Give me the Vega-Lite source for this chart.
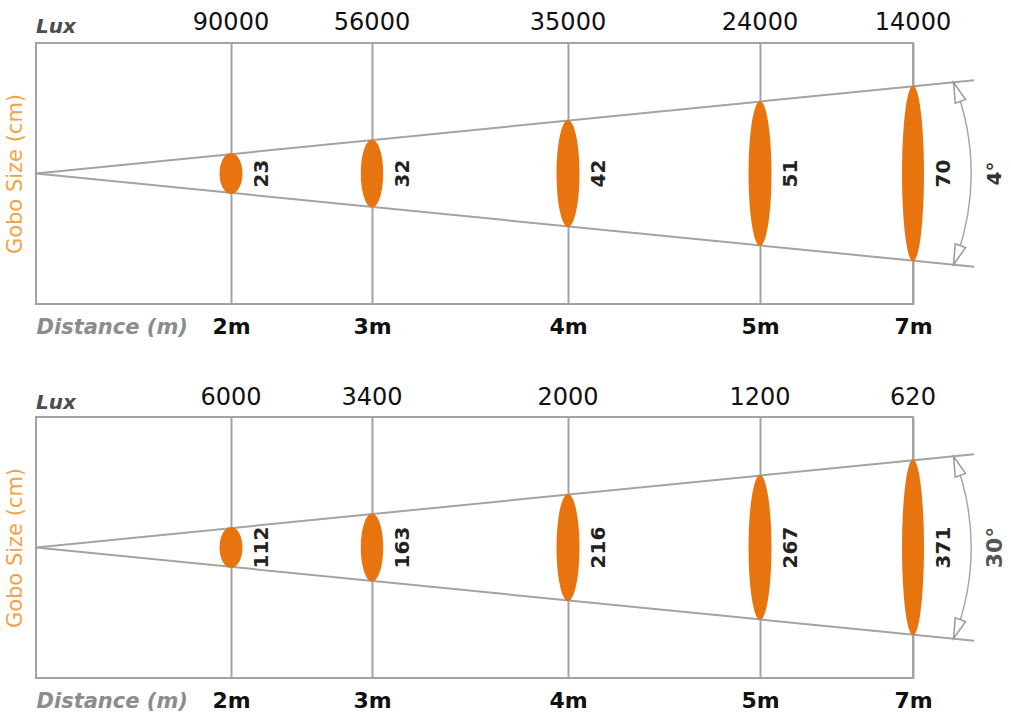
{
  "$schema": "https://vega.github.io/schema/vega-lite/v6.json",
  "background": "white",
  "padding": {"left": 3, "top": 10, "right": 0, "bottom": 0},
  "bounds": "flush",
  "spacing": 113,
  "datasets": {
    "pts": [
      {"panel": "A", "d": 2, "lux": 90000, "gobo": 23},
      {"panel": "A", "d": 3, "lux": 56000, "gobo": 32},
      {"panel": "A", "d": 4, "lux": 35000, "gobo": 42},
      {"panel": "A", "d": 5, "lux": 24000, "gobo": 51},
      {"panel": "A", "d": 7, "lux": 14000, "gobo": 70},
      {"panel": "B", "d": 2, "lux": 6000, "gobo": 112},
      {"panel": "B", "d": 3, "lux": 3400, "gobo": 163},
      {"panel": "B", "d": 4, "lux": 2000, "gobo": 216},
      {"panel": "B", "d": 5, "lux": 1200, "gobo": 267},
      {"panel": "B", "d": 7, "lux": 620, "gobo": 371}
    ],
    "beam": [
      {"side": "upper", "d": 0, "s": 0},
      {"side": "upper", "d": 7.8, "s": 1},
      {"side": "lower", "d": 0, "s": 0},
      {"side": "lower", "d": 7.8, "s": -1}
    ],
    "beams": [
      {"panel": "A", "angle": "4°"},
      {"panel": "B", "angle": "30°"}
    ],
    "one": [{"t": "Lux"}]
  },
  "vconcat": [
    {
      "width": 877,
      "height": 261,
      "layer": [
        {
          "data": {"name": "beam"},
          "mark": {"type": "line", "color": "#a3a3a3", "strokeWidth": 2},
          "encoding": {
            "x": {"field": "d", "type": "quantitative",
              "scale": {"domain": [0, 2, 3, 4, 5, 7], "range": [0, 195, 336, 532, 724, 877], "nice": false, "zero": false},
              "axis": {"values": [2, 3, 4, 5, 7], "labelExpr": "datum.value + 'm'", "labelFont": "DejaVu Sans", "labelFontWeight": "bold", "labelFontSize": 22, "labelColor": "#111111", "labelBaseline": "alphabetic", "labelPadding": 29, "labelOverlap": false, "labelFlush": false, "ticks": false, "tickSize": 0, "domain": false, "grid": true, "gridColor": "#a3a3a3", "gridWidth": 2, "title": "Distance (m)", "titleX": 0, "titleY": 29, "titleAlign": "left", "titleAnchor": "start", "titleBaseline": "alphabetic", "titleFont": "DejaVu Sans", "titleFontStyle": "italic", "titleFontWeight": "bold", "titleFontSize": 21, "titleColor": "#8c8c8c"}},
            "y": {"field": "s", "type": "quantitative",
              "scale": {"domain": [-1.4, 1.4], "nice": false, "zero": false},
              "axis": {"title": "Gobo Size (cm)", "labels": false, "ticks": false, "domain": false, "grid": false, "titlePadding": 11, "titleFont": "DejaVu Sans", "titleFontWeight": "normal", "titleFontSize": 21, "titleColor": "#F2A245"}},
            "detail": {"field": "side"}
          }
        },
        {
          "data": {"name": "pts"},
          "transform": [{"filter": "datum.panel == 'A'"}],
          "mark": {"type": "point", "filled": true, "size": 40000, "color": "#E8740F", "opacity": 1, "strokeWidth": 0},
          "encoding": {
            "x": {"field": "d", "type": "quantitative"},
            "y": {"datum": 0},
            "shape": {"field": "d", "type": "nominal", "legend": null,
              "scale": {"domain": [2, 3, 4, 5, 7], "range": [
                "M0,-0.205A0.115,0.205 0 1,1 0,0.205A0.115,0.205 0 1,1 0,-0.205Z",
                "M0,-0.34A0.112,0.34 0 1,1 0,0.34A0.112,0.34 0 1,1 0,-0.34Z",
                "M0,-0.535A0.115,0.535 0 1,1 0,0.535A0.115,0.535 0 1,1 0,-0.535Z",
                "M0,-0.725A0.115,0.725 0 1,1 0,0.725A0.115,0.725 0 1,1 0,-0.725Z",
                "M0,-0.88A0.11,0.88 0 1,1 0,0.88A0.11,0.88 0 1,1 0,-0.88Z"]}}
          }
        },
        {
          "data": {"name": "pts"},
          "transform": [{"filter": "datum.panel == 'A'"}],
          "mark": {"type": "text", "angle": 270, "dy": 31, "align": "center", "baseline": "middle", "font": "DejaVu Sans", "fontWeight": "bold", "fontSize": 20, "color": "#222222"},
          "encoding": {
            "x": {"field": "d", "type": "quantitative"},
            "y": {"datum": 0},
            "text": {"field": "gobo", "type": "nominal"}
          }
        },
        {
          "data": {"name": "pts"},
          "transform": [{"filter": "datum.panel == 'A'"}],
          "mark": {"type": "text", "dy": -13, "align": "center", "baseline": "alphabetic", "font": "DejaVu Sans", "fontSize": 24, "color": "#111111"},
          "encoding": {
            "x": {"field": "d", "type": "quantitative"},
            "y": {"datum": 1.4},
            "text": {"field": "lux", "type": "nominal"}
          }
        },
        {
          "data": {"name": "one"},
          "mark": {"type": "text", "dy": -10, "align": "left", "baseline": "alphabetic", "font": "DejaVu Sans", "fontStyle": "italic", "fontWeight": "bold", "fontSize": 20, "color": "#4d4d4d"},
          "encoding": {
            "x": {"datum": 0},
            "y": {"datum": 1.4},
            "text": {"field": "t", "type": "nominal"}
          }
        },
        {
          "data": {"name": "one"},
          "mark": {"type": "arc", "theta": 1.192, "theta2": 1.95, "radius": 246.5, "radius2": 245, "color": "#a8a8a8"},
          "encoding": {
            "x": {"datum": 4.82},
            "y": {"datum": 0}
          }
        },
        {
          "data": {"name": "one"},
          "mark": {"type": "point", "shape": "M0,-1L0.55,1L-0.55,1Z", "size": 400, "angle": -20, "filled": true, "fill": "white", "stroke": "#999999", "strokeWidth": 1.5, "opacity": 1},
          "encoding": {
            "x": {"datum": 7.575},
            "y": {"datum": 0.876}
          }
        },
        {
          "data": {"name": "one"},
          "mark": {"type": "point", "shape": "M0,1L0.55,-1L-0.55,-1Z", "size": 400, "angle": 20, "filled": true, "fill": "white", "stroke": "#999999", "strokeWidth": 1.5, "opacity": 1},
          "encoding": {
            "x": {"datum": 7.575},
            "y": {"datum": -0.876}
          }
        },
        {
          "data": {"name": "beams"},
          "transform": [{"filter": "datum.panel == 'A'"}],
          "mark": {"type": "text", "angle": 270, "align": "center", "baseline": "middle", "font": "DejaVu Sans", "fontWeight": "bold", "fontSize": 20, "color": "#333333"},
          "encoding": {
            "x": {"datum": 8.07},
            "y": {"datum": 0},
            "text": {"field": "angle", "type": "nominal"}
          }
        }
      ]
    },
    {
      "width": 877,
      "height": 261,
      "layer": [
        {
          "data": {"name": "beam"},
          "mark": {"type": "line", "color": "#a3a3a3", "strokeWidth": 2},
          "encoding": {
            "x": {"field": "d", "type": "quantitative",
              "scale": {"domain": [0, 2, 3, 4, 5, 7], "range": [0, 195, 336, 532, 724, 877], "nice": false, "zero": false},
              "axis": {"values": [2, 3, 4, 5, 7], "labelExpr": "datum.value + 'm'", "labelFont": "DejaVu Sans", "labelFontWeight": "bold", "labelFontSize": 22, "labelColor": "#111111", "labelBaseline": "alphabetic", "labelPadding": 29, "labelOverlap": false, "labelFlush": false, "ticks": false, "tickSize": 0, "domain": false, "grid": true, "gridColor": "#a3a3a3", "gridWidth": 2, "title": "Distance (m)", "titleX": 0, "titleY": 29, "titleAlign": "left", "titleAnchor": "start", "titleBaseline": "alphabetic", "titleFont": "DejaVu Sans", "titleFontStyle": "italic", "titleFontWeight": "bold", "titleFontSize": 21, "titleColor": "#8c8c8c"}},
            "y": {"field": "s", "type": "quantitative",
              "scale": {"domain": [-1.4, 1.4], "nice": false, "zero": false},
              "axis": {"title": "Gobo Size (cm)", "labels": false, "ticks": false, "domain": false, "grid": false, "titlePadding": 11, "titleFont": "DejaVu Sans", "titleFontWeight": "normal", "titleFontSize": 21, "titleColor": "#F2A245"}},
            "detail": {"field": "side"}
          }
        },
        {
          "data": {"name": "pts"},
          "transform": [{"filter": "datum.panel == 'B'"}],
          "mark": {"type": "point", "filled": true, "size": 40000, "color": "#E8740F", "opacity": 1, "strokeWidth": 0},
          "encoding": {
            "x": {"field": "d", "type": "quantitative"},
            "y": {"datum": 0},
            "shape": {"field": "d", "type": "nominal", "legend": null,
              "scale": {"domain": [2, 3, 4, 5, 7], "range": [
                "M0,-0.205A0.115,0.205 0 1,1 0,0.205A0.115,0.205 0 1,1 0,-0.205Z",
                "M0,-0.34A0.112,0.34 0 1,1 0,0.34A0.112,0.34 0 1,1 0,-0.34Z",
                "M0,-0.535A0.115,0.535 0 1,1 0,0.535A0.115,0.535 0 1,1 0,-0.535Z",
                "M0,-0.725A0.115,0.725 0 1,1 0,0.725A0.115,0.725 0 1,1 0,-0.725Z",
                "M0,-0.88A0.11,0.88 0 1,1 0,0.88A0.11,0.88 0 1,1 0,-0.88Z"]}}
          }
        },
        {
          "data": {"name": "pts"},
          "transform": [{"filter": "datum.panel == 'B'"}],
          "mark": {"type": "text", "angle": 270, "dy": 31, "align": "center", "baseline": "middle", "font": "DejaVu Sans", "fontWeight": "bold", "fontSize": 20, "color": "#222222"},
          "encoding": {
            "x": {"field": "d", "type": "quantitative"},
            "y": {"datum": 0},
            "text": {"field": "gobo", "type": "nominal"}
          }
        },
        {
          "data": {"name": "pts"},
          "transform": [{"filter": "datum.panel == 'B'"}],
          "mark": {"type": "text", "dy": -12, "align": "center", "baseline": "alphabetic", "font": "DejaVu Sans", "fontSize": 24, "color": "#111111"},
          "encoding": {
            "x": {"field": "d", "type": "quantitative"},
            "y": {"datum": 1.4},
            "text": {"field": "lux", "type": "nominal"}
          }
        },
        {
          "data": {"name": "one"},
          "mark": {"type": "text", "dy": -8, "align": "left", "baseline": "alphabetic", "font": "DejaVu Sans", "fontStyle": "italic", "fontWeight": "bold", "fontSize": 20, "color": "#4d4d4d"},
          "encoding": {
            "x": {"datum": 0},
            "y": {"datum": 1.4},
            "text": {"field": "t", "type": "nominal"}
          }
        },
        {
          "data": {"name": "one"},
          "mark": {"type": "arc", "theta": 1.192, "theta2": 1.95, "radius": 246.5, "radius2": 245, "color": "#a8a8a8"},
          "encoding": {
            "x": {"datum": 4.82},
            "y": {"datum": 0}
          }
        },
        {
          "data": {"name": "one"},
          "mark": {"type": "point", "shape": "M0,-1L0.55,1L-0.55,1Z", "size": 400, "angle": -20, "filled": true, "fill": "white", "stroke": "#999999", "strokeWidth": 1.5, "opacity": 1},
          "encoding": {
            "x": {"datum": 7.575},
            "y": {"datum": 0.876}
          }
        },
        {
          "data": {"name": "one"},
          "mark": {"type": "point", "shape": "M0,1L0.55,-1L-0.55,-1Z", "size": 400, "angle": 20, "filled": true, "fill": "white", "stroke": "#999999", "strokeWidth": 1.5, "opacity": 1},
          "encoding": {
            "x": {"datum": 7.575},
            "y": {"datum": -0.876}
          }
        },
        {
          "data": {"name": "beams"},
          "transform": [{"filter": "datum.panel == 'B'"}],
          "mark": {"type": "text", "angle": 270, "align": "center", "baseline": "middle", "font": "DejaVu Sans", "fontWeight": "bold", "fontSize": 22, "color": "#555555"},
          "encoding": {
            "x": {"datum": 8.07},
            "y": {"datum": 0},
            "text": {"field": "angle", "type": "nominal"}
          }
        }
      ]
    }
  ],
  "config": {
    "font": "DejaVu Sans",
    "view": {"stroke": "#a3a3a3", "strokeWidth": 2}
  }
}
